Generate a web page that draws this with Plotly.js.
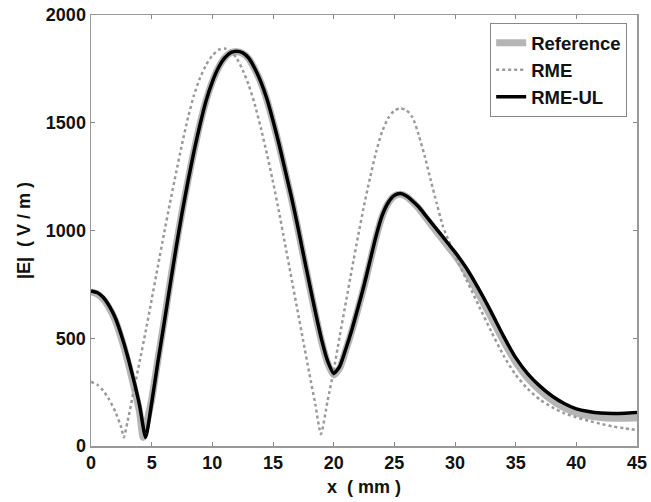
<!DOCTYPE html>
<html>
<head>
<meta charset="utf-8">
<script src="https://cdn.plot.ly/plotly-3.0.1.min.js"></script>
<style>html,body{margin:0;padding:0;background:#fff;}#chart{width:651px;height:502px;}</style>
</head>
<body>
<div id="chart"></div>
<script>
// RME-UL (black solid)
const xUL = [0,0.5,1,1.5,2,2.5,3,3.5,4,4.5,5,5.5,6,6.5,7,7.5,8,8.5,9,9.5,10,10.5,11,11.5,12,12.5,13,13.5,14,14.5,15,15.5,16,16.5,17,17.5,18,18.5,19,19.5,20,20.5,21,21.5,22,22.5,23,23.5,24,24.5,25,25.5,26,26.5,27,27.5,28,28.5,29,29.5,30,31,32,33,34,35,36,37,38,39,40,41,42,43,44,45];
const yUL = [720,712,690,650,595,515,420,310,190,40,200,385,560,740,915,1080,1230,1370,1495,1605,1690,1755,1800,1825,1832,1825,1800,1752,1690,1610,1510,1400,1280,1160,1030,890,755,620,495,395,337,370,450,540,640,745,860,975,1070,1130,1163,1172,1160,1137,1110,1075,1040,1005,970,935,900,820,724,620,510,410,335,278,232,197,172,160,153,151,152,155];
// Reference (thick grey)
const xRef = [0,0.5,1,1.5,2,2.5,3,3.5,4,4.3,4.6,5,5.5,6,6.5,7,7.5,8,8.5,9,9.5,10,10.5,11,11.5,12,12.5,13,13.5,14,14.5,15,15.5,16,16.5,17,17.5,18,18.5,19,19.5,20,20.5,21,21.5,22,22.5,23,23.5,24,24.5,25,25.5,26,26.5,27,27.5,28,28.5,29,29.5,30,31,32,33,34,35,36,37,38,39,40,41,42,43,44,45];
const yRef = [715,706,682,640,583,500,400,285,160,40,110,215,395,570,750,925,1085,1235,1372,1498,1606,1690,1755,1800,1824,1830,1822,1797,1748,1686,1605,1505,1395,1275,1153,1022,882,745,610,485,385,330,362,445,535,635,740,855,970,1066,1127,1160,1168,1157,1133,1103,1067,1030,993,957,920,885,800,700,595,487,390,315,258,212,178,153,140,132,129,129,130];
// RME (grey dotted)
const xRME = [0,0.5,1,1.5,2,2.5,2.7,3,3.5,4,4.5,5,5.5,6,6.5,7,7.5,8,8.5,9,9.5,10,10.5,11,11.5,12,12.5,13,13.5,14,14.5,15,15.5,16,16.5,17,17.5,18,18.5,18.95,19.5,20,20.5,21,21.5,22,22.5,23,23.5,24,24.5,25,25.5,26,26.5,27,27.5,28,28.5,29,29.5,30,31,32,33,34,35,36,37,38,39,40,41,42,43,44,45];
const yRME = [298,285,258,215,160,85,40,110,250,390,530,680,830,980,1125,1265,1400,1525,1630,1710,1770,1812,1838,1845,1833,1800,1745,1675,1585,1475,1355,1225,1085,935,785,635,485,335,190,55,210,350,510,665,820,970,1115,1245,1365,1460,1522,1556,1567,1558,1525,1445,1345,1234,1125,1020,950,885,765,646,530,420,330,265,215,180,152,133,117,103,91,82,74];

const traces = [
  {x: xRef, y: yRef, name: 'Reference', mode: 'lines', line: {color: '#b5b5b5', width: 7, shape: 'spline', smoothing: 0.6}},
  {x: xRME, y: yRME, name: 'RME', mode: 'lines', line: {color: '#9a9a9a', width: 2.5, dash: 'dot', shape: 'spline', smoothing: 0.6}},
  {x: xUL, y: yUL, name: 'RME-UL', mode: 'lines', line: {color: '#000000', width: 3.5, shape: 'spline', smoothing: 0.6}}
];

const fam = 'Liberation Sans, Arial, sans-serif';
const tickFont = {family: fam, size: 18, color: '#111', weight: 'bold'};
const layout = {
  width: 651, height: 502,
  margin: {l: 91, r: 14, t: 15, b: 56},
  paper_bgcolor: '#fff', plot_bgcolor: '#fff',
  showlegend: true,
  legend: {
    x: 0.982, y: 0.981, xanchor: 'right', yanchor: 'top',
    bgcolor: '#fff', bordercolor: '#888', borderwidth: 1,
    font: {family: fam, size: 18.5, color: '#111', weight: 'bold'},
    tracegroupgap: 0
  },
  xaxis: {
    range: [0, 45], tickvals: [0,5,10,15,20,25,30,35,40,45],
    ticks: 'inside', ticklen: 4, tickcolor: '#888', showline: true, linecolor: '#999', linewidth: 1.5,
    mirror: 'ticks', showgrid: false, zeroline: false, tickfont: tickFont,
    title: {text: 'x  ( mm )', font: {family: fam, size: 18, color: '#111', weight: 'bold'}, standoff: 8}
  },
  yaxis: {
    range: [0, 2000], tickvals: [0,500,1000,1500,2000],
    ticks: 'inside', ticklen: 4, tickcolor: '#888', showline: true, linecolor: '#999', linewidth: 1.5,
    mirror: 'ticks', showgrid: false, zeroline: false, tickfont: tickFont,
    title: {text: '|E|  ( V / m )', font: {family: fam, size: 18, color: '#111', weight: 'bold'}, standoff: 10}
  }
};
Plotly.newPlot('chart', traces, layout, {displayModeBar: false, staticPlot: true});
</script>
</body>
</html>
